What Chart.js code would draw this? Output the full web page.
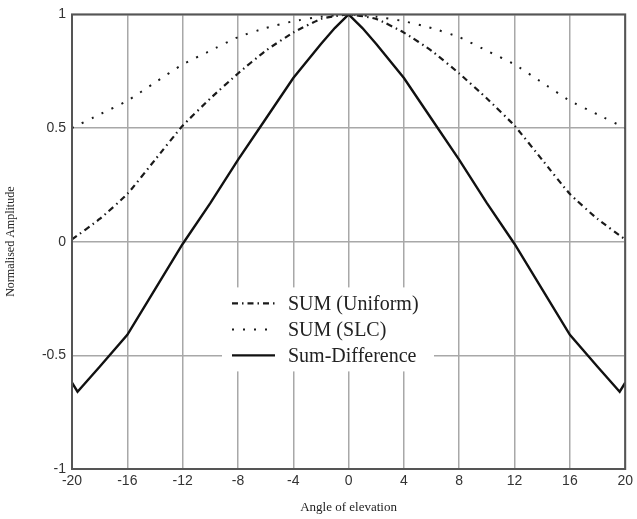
<!DOCTYPE html>
<html>
<head>
<meta charset="utf-8">
<script src="https://cdn.jsdelivr.net/npm/chart.js@4"></script>
<style>
  html, body { margin: 0; padding: 0; background: #fff; }
  canvas { display: block; }
</style>
</head>
<body>
<canvas id="chart" width="637" height="519"></canvas>
<script>
const angles = [-20, -18, -16, -14, -12, -10, -8, -6, -4, -2, 0, 2, 4, 6, 8, 10, 12, 14, 16, 18, 20];
const sumUniform = [0.01, 0.10, 0.21, 0.36, 0.51, 0.63, 0.74, 0.84, 0.92, 0.98, 1.00, 0.98, 0.92, 0.84, 0.74, 0.63, 0.51, 0.36, 0.21, 0.10, 0.01];
const sumSLC = [0.50, 0.56, 0.62, 0.70, 0.78, 0.84, 0.90, 0.94, 0.97, 0.99, 1.00, 0.99, 0.97, 0.94, 0.90, 0.84, 0.78, 0.70, 0.62, 0.56, 0.50];

const diffAngles = [-20, -19.6, -18, -16, -14, -12, -10, -8, -6, -4, -2, -1, 0, 1, 2, 4, 6, 8, 10, 12, 14, 16, 18, 19.6, 20];
const sumDiff = [-0.62, -0.66, -0.55, -0.41, -0.21, -0.01, 0.17, 0.36, 0.54, 0.72, 0.87, 0.94, 1.00, 0.94, 0.87, 0.72, 0.54, 0.36, 0.17, -0.01, -0.21, -0.41, -0.55, -0.66, -0.62];

const seriesNames = ['SUM (Uniform)', 'SUM (SLC)', 'Sum-Difference'];

function toPoints(xs, ys) {
    return xs.map((x, i) => ({ x: x, y: ys[i] }));
}

// legend box drawn inside the plot, like the original
const innerLegend = {
    id: 'innerLegend',
    afterDraw(chart) {
        const ctx = chart.ctx;
        const a = chart.chartArea;
        // frame around the plot
        ctx.save();
        ctx.strokeStyle = '#555';
        ctx.lineWidth = 2;
        ctx.strokeRect(a.left, a.top, a.right - a.left, a.bottom - a.top);

        const x0 = a.left + 150;
        const y0 = a.top + 273;
        ctx.fillStyle = '#fff';
        ctx.fillRect(x0, y0, 212, 84);
        ctx.font = '20px "Liberation Serif", "DejaVu Serif", serif';
        ctx.textBaseline = 'middle';
        chart.data.datasets.forEach((ds, i) => {
            const y = y0 + 16 + i * 26;
            ctx.beginPath();
            ctx.strokeStyle = ds.borderColor;
            ctx.lineWidth = ds.borderWidth;
            ctx.setLineDash(ds.borderDash || []);
            ctx.moveTo(x0 + 10, y);
            ctx.lineTo(x0 + 53, y);
            ctx.stroke();
            ctx.setLineDash([]);
            ctx.fillStyle = '#222';
            ctx.fillText(ds.label, x0 + 66, y + 1);
        });
        ctx.restore();
    }
};

function main() {
    const canvas = document.querySelector('#chart');
    new Chart(canvas.getContext('2d'), {
        type: 'line',
        data: {
            datasets: [
                {
                    label: seriesNames[0],
                    data: toPoints(angles, sumUniform),
                    borderColor: '#1a1a1a',
                    borderWidth: 2.2,
                    borderDash: [6, 4, 1.5, 4],
                    tension: 0.15,
                    pointRadius: 0,
                    fill: false
                },
                {
                    label: seriesNames[1],
                    data: toPoints(angles, sumSLC),
                    borderColor: '#1a1a1a',
                    borderWidth: 2,
                    borderDash: [2, 9],
                    tension: 0.15,
                    pointRadius: 0,
                    fill: false
                },
                {
                    label: seriesNames[2],
                    data: toPoints(diffAngles, sumDiff),
                    borderColor: '#111',
                    borderWidth: 2.4,
                    tension: 0,
                    pointRadius: 0,
                    fill: false
                }
            ]
        },
        options: {
            responsive: false,
            animation: false,
            layout: { padding: { top: 11, right: 10, left: 0, bottom: 0 } },
            plugins: {
                legend: { display: false },
                tooltip: { enabled: false }
            },
            scales: {
                x: {
                    type: 'linear',
                    min: -20,
                    max: 20,
                    ticks: {
                        stepSize: 4,
                        color: '#333',
                        font: { family: '"Liberation Sans", Arial, sans-serif', size: 14 },
                        padding: 4,
                        maxRotation: 0
                    },
                    grid: { color: '#a8a8a8', lineWidth: 1.5, drawTicks: false },
                    border: { display: false },
                    title: {
                        display: true,
                        text: 'Angle of elevation',
                        color: '#222',
                        font: { family: '"Liberation Serif", "DejaVu Serif", serif', size: 13 },
                        padding: { top: 4 }
                    },
                    afterFit(scale) { scale.height = 50; }
                },
                y: {
                    min: -1,
                    max: 1,
                    ticks: {
                        stepSize: 0.5,
                        color: '#333',
                        font: { family: '"Liberation Sans", Arial, sans-serif', size: 14 },
                        padding: 6,
                        callback: value => String(value)
                    },
                    grid: { color: '#a8a8a8', lineWidth: 1.5, drawTicks: false },
                    border: { display: false },
                    title: {
                        display: true,
                        text: 'Normalised Amplitude',
                        color: '#222',
                        font: { family: '"Liberation Serif", "DejaVu Serif", serif', size: 12 },
                        padding: { bottom: 8 }
                    },
                    afterFit(scale) { scale.width = 72; }
                }
            }
        },
        plugins: [innerLegend]
    });
}

main();
</script>
</body>
</html>
